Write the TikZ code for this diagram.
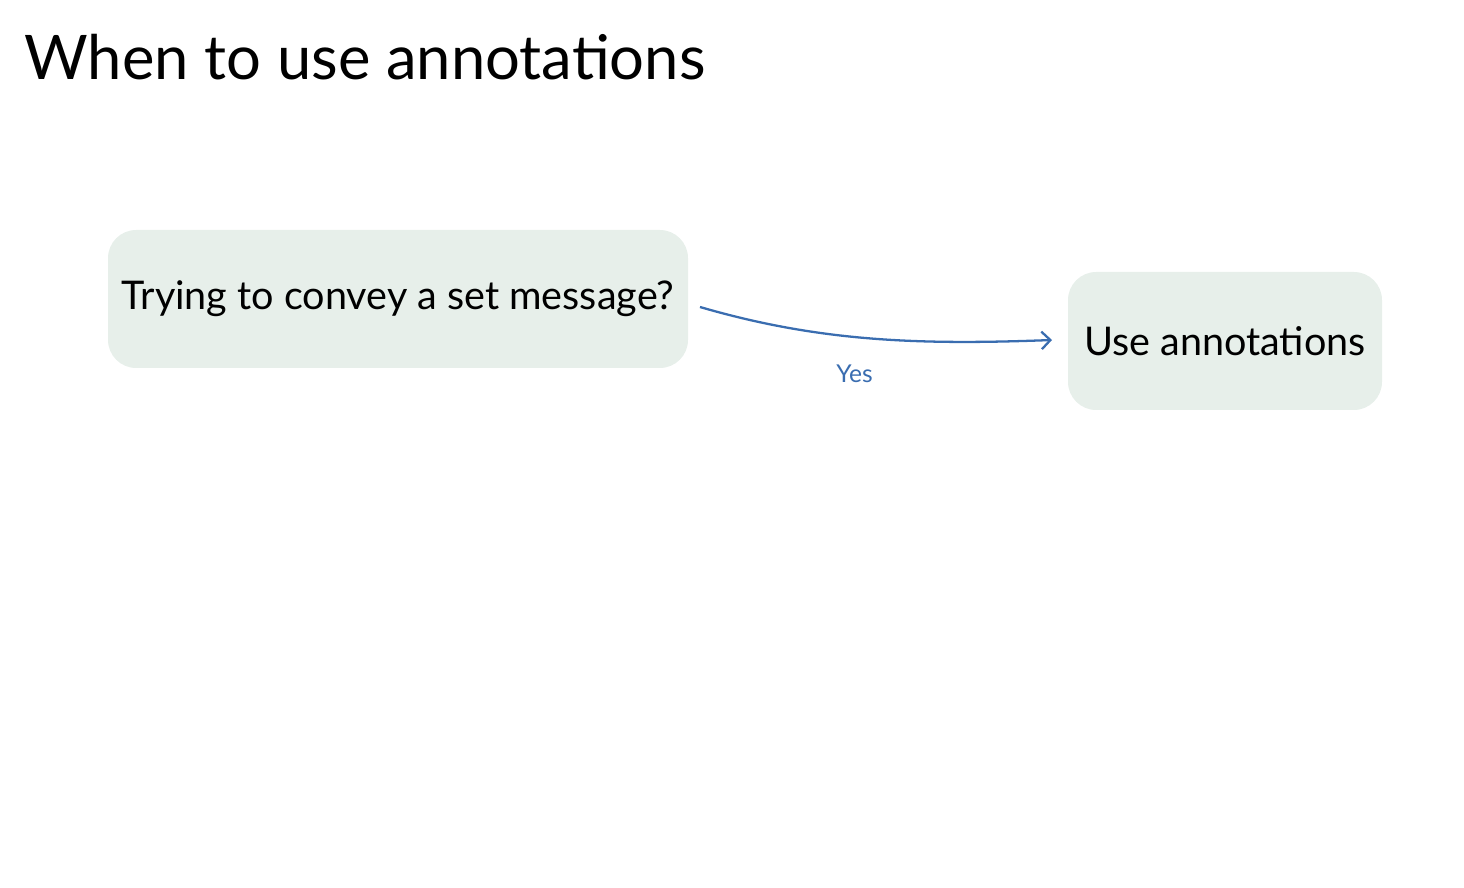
\documentclass[tikz,border=0pt]{standalone}
\usepackage{fontspec}
\setmainfont{Lato}
\usetikzlibrary{arrows.meta}
\definecolor{boxfill}{HTML}{E7EFEA}
\definecolor{linkblue}{HTML}{3A6DB0}
\begin{document}
\begin{tikzpicture}[
            x=0.02cm, y=-0.02cm,
            box/.style={fill=boxfill, rounded corners=16pt, inner sep=0pt,
                        font=\fontsize{22.5}{26}\selectfont},
            ]
            \useasboundingbox (0,0) rectangle (1464,888);
            \node[anchor=base west, inner sep=0pt, font=\fontsize{35}{40}\selectfont] (title) at (24,80) {When to use annotations};
            \node[box, minimum width=580*0.02cm, minimum height=138*0.02cm] (question) at (398,299) {Trying to convey a set message?};
            \node[box, minimum width=314*0.02cm, minimum height=138*0.02cm] (answer) at (1225,341) {Use annotations};
            \coordinate (start) at (700,307);
            \coordinate (stop) at (1052,340);
            \draw[linkblue, line width=1.3pt, -{Straight Barb[length=5pt,width=10pt]}]
                (start) .. controls (820,342) and (920,345) .. (stop)
                node[pos=0.45, below=12pt, font=\fontsize{14}{16}\selectfont] (yes) {Yes};
        \end{tikzpicture}
\end{document}
